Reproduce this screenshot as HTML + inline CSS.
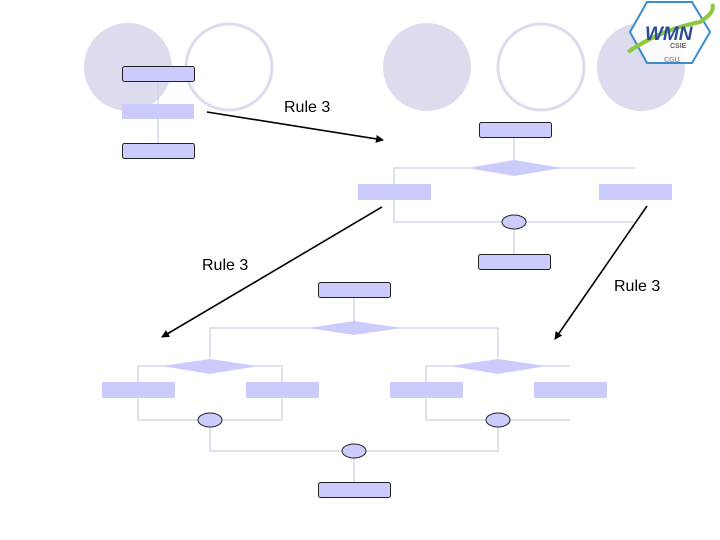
<!DOCTYPE html>
<html><head><style>html,body{margin:0;padding:0;background:#fff;}svg{display:block}</style></head>
<body>
<svg width="720" height="540" viewBox="0 0 720 540" xmlns="http://www.w3.org/2000/svg">
<defs><marker id="ah" markerWidth="8" markerHeight="8" refX="7" refY="4" orient="auto" markerUnits="userSpaceOnUse"><path d="M0,0 L8,4 L0,8 z" fill="#000"/></marker></defs>
<!-- decorative circles -->
<circle cx="128" cy="67" r="44" fill="#dcdcee"/>
<circle cx="229" cy="67" r="43" fill="#fff" stroke="#dcdcee" stroke-width="3"/>
<circle cx="427" cy="67" r="44" fill="#dcdcee"/>
<circle cx="541" cy="67" r="43" fill="#fff" stroke="#dcdcee" stroke-width="3"/>
<circle cx="641" cy="67" r="44" fill="#dcdcee"/>
<!-- logo -->
<polygon points="647,2 692,2 710,32 692,63 647,63 630,32" fill="#fff" fill-opacity="0.85" stroke="#3a8ccc" stroke-width="2"/>
<path d="M628,52 Q660,30 700,22 Q716,12 712,4" fill="none" stroke="#8cc840" stroke-width="4"/>
<text x="645" y="40" font-family="Liberation Sans,sans-serif" font-size="19" font-weight="bold" font-style="italic" fill="#2a4a9a">WMN</text>
<text x="670" y="48" font-family="Liberation Sans,sans-serif" font-size="7" font-weight="bold" fill="#666">CSIE</text>
<text x="664" y="62" font-family="Liberation Sans,sans-serif" font-size="7" font-weight="bold" fill="#a88">CGU</text>
<g stroke="#d0d0e4" stroke-width="1.2" fill="none">
<line x1="158" y1="81" x2="158" y2="143"/>
<line x1="514" y1="137" x2="514" y2="168"/>
<polyline points="394,184 394,168 635,168"/>
<polyline points="394,200 394,222 634,222"/>
<line x1="514" y1="229" x2="514" y2="254"/>
<line x1="354" y1="297" x2="354" y2="328"/>
<polyline points="210,358 210,328 498,328 498,358"/>
<polyline points="138,382 138,366 282,366 282,382"/>
<polyline points="138,398 138,420 282,420 282,398"/>
<polyline points="426,382 426,366 570,366"/>
<polyline points="426,398 426,420 570,420"/>
<polyline points="210,427 210,451 498,451 498,427"/>
<line x1="354" y1="458" x2="354" y2="482"/>
</g>
<g fill="#ccccfc">
<rect x="122" y="104" width="72" height="15"/>
<rect x="358" y="184" width="73" height="16"/>
<rect x="599" y="184" width="73" height="16"/>
<rect x="102" y="382" width="73" height="16"/>
<rect x="246" y="382" width="73" height="16"/>
<rect x="390" y="382" width="73" height="16"/>
<rect x="534" y="382" width="73" height="16"/>
<polygon points="467,168 514,160 562,168 514,176"/>
<polygon points="308,328 354,321 402,328 354,335"/>
<polygon points="162,366 210,359 258,366 210,374"/>
<polygon points="450,366 498,359 546,366 498,374"/>
</g>
<g fill="#ccccfc" stroke="#222" stroke-width="1">
<rect x="122.5" y="66.5" width="72" height="15" rx="2"/>
<rect x="122.5" y="143.5" width="72" height="15" rx="2"/>
<rect x="479.5" y="122.5" width="72" height="15" rx="2"/>
<rect x="478.5" y="254.5" width="72" height="15" rx="2"/>
<rect x="318.5" y="282.5" width="72" height="15" rx="2"/>
<rect x="318.5" y="482.5" width="72" height="15" rx="2"/>
<ellipse cx="514" cy="222" rx="12" ry="7"/>
<ellipse cx="210" cy="420" rx="12" ry="7"/>
<ellipse cx="498" cy="420" rx="12" ry="7"/>
<ellipse cx="354" cy="451" rx="12" ry="7"/>
</g>
<g stroke="#000" stroke-width="1.6">
<line x1="207" y1="112" x2="383" y2="140" marker-end="url(#ah)"/>
<line x1="382" y1="207" x2="162" y2="337" marker-end="url(#ah)"/>
<line x1="647" y1="206" x2="555" y2="339" marker-end="url(#ah)"/>
</g>
<g font-family="Liberation Sans,sans-serif" font-size="16" fill="#000">
<text x="284" y="112">Rule 3</text>
<text x="202" y="270">Rule 3</text>
<text x="614" y="291">Rule 3</text>
</g>
</svg>
</body></html>
